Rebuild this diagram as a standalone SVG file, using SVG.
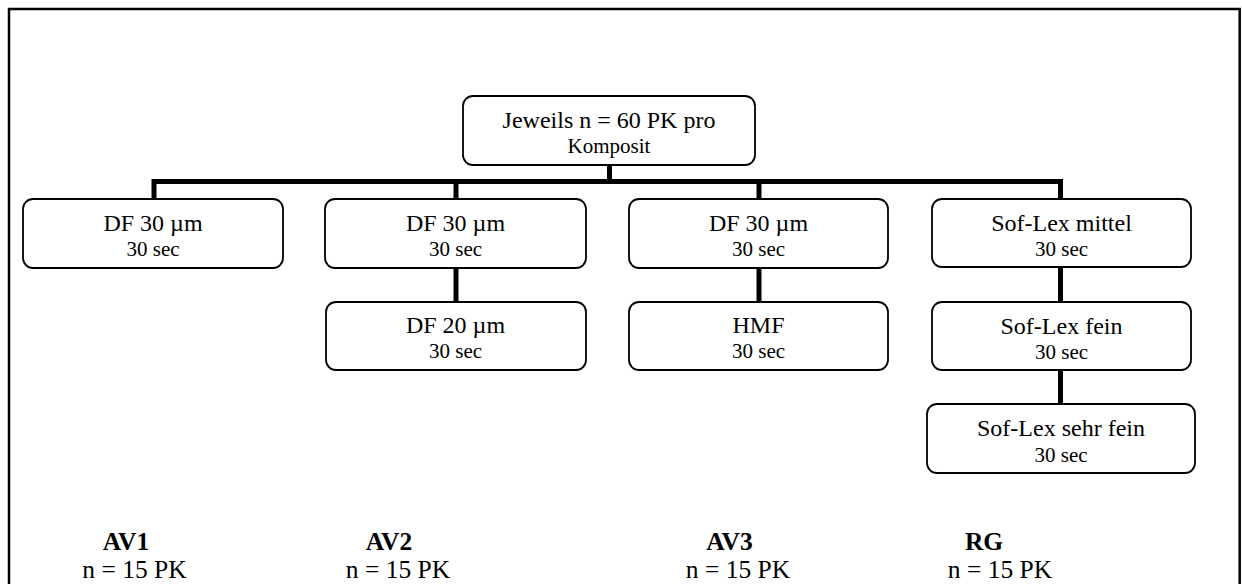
<svg xmlns="http://www.w3.org/2000/svg" width="1242" height="584" viewBox="0 0 1242 584">
<style>
.box{fill:#fff;stroke:#000;stroke-width:1.8}
.t1{font-family:"Liberation Serif","Times New Roman",serif;font-size:24px;text-anchor:middle;fill:#000}
.t2{font-family:"Liberation Serif","Times New Roman",serif;font-size:21px;text-anchor:middle;fill:#000}
.lab{font-family:"Liberation Serif","Times New Roman",serif;font-size:25.5px;font-weight:bold;text-anchor:middle;fill:#000}
.cnt{font-family:"Liberation Serif","Times New Roman",serif;font-size:25.5px;text-anchor:middle;fill:#000}
.conn{fill:none;stroke:#000;stroke-width:5;stroke-linejoin:miter;stroke-linecap:butt}
</style>
<rect width="1242" height="584" fill="#fff"/>
<path d="M9,584 V9 H1239.7 V584" fill="none" stroke="#000" stroke-width="2.5"/>
<g id="connectors">
<path class="conn" d="M609.5,165 V181.5"/>
<path class="conn" d="M154,199 V181.5 H1060.5 V199"/>
<path class="conn" d="M456,181.5 V199"/>
<path class="conn" d="M759,181.5 V199"/>
<path class="conn" d="M456,268 V302"/>
<path class="conn" d="M759,268 V302"/>
<path class="conn" d="M1060.5,267 V302"/>
<path class="conn" d="M1060.5,370 V404"/>
</g>
<g id="root">
<rect class="box" x="463" y="96" width="292" height="69" rx="10"/>
<text class="t1" x="609" y="128">Jeweils n = 60 PK pro</text>
<text class="t2" x="609" y="152.5">Komposit</text>
</g>
<g id="av1-df30">
<rect class="box" x="23" y="199" width="260" height="69" rx="10"/>
<text class="t1" x="153" y="231">DF 30 µm</text>
<text class="t2" x="153" y="256">30 sec</text>
</g>
<g id="av2-df30">
<rect class="box" x="325" y="199" width="261" height="69" rx="10"/>
<text class="t1" x="455.5" y="231">DF 30 µm</text>
<text class="t2" x="455.5" y="256">30 sec</text>
</g>
<g id="av2-df20">
<rect class="box" x="326" y="302" width="260" height="68" rx="10"/>
<text class="t1" x="455.5" y="333">DF 20 µm</text>
<text class="t2" x="455.5" y="358">30 sec</text>
</g>
<g id="av3-df30">
<rect class="box" x="629" y="199" width="259" height="69" rx="10"/>
<text class="t1" x="758.5" y="231">DF 30 µm</text>
<text class="t2" x="758.5" y="256">30 sec</text>
</g>
<g id="av3-hmf">
<rect class="box" x="629" y="302" width="259" height="68" rx="10"/>
<text class="t1" x="758.5" y="333">HMF</text>
<text class="t2" x="758.5" y="358">30 sec</text>
</g>
<g id="rg-mittel">
<rect class="box" x="932" y="199" width="259" height="68" rx="10"/>
<text class="t1" x="1061.5" y="231">Sof-Lex mittel</text>
<text class="t2" x="1061.5" y="256">30 sec</text>
</g>
<g id="rg-fein">
<rect class="box" x="932" y="302" width="259" height="68" rx="10"/>
<text class="t1" x="1061.5" y="334">Sof-Lex fein</text>
<text class="t2" x="1061.5" y="359">30 sec</text>
</g>
<g id="rg-sehrfein">
<rect class="box" x="927" y="404" width="268" height="69" rx="10"/>
<text class="t1" x="1061" y="436">Sof-Lex sehr fein</text>
<text class="t2" x="1061" y="461.5">30 sec</text>
</g>
<g id="labels">
<text class="lab" x="126" y="550">AV1</text>
<text class="cnt" x="134.5" y="578.3">n = 15 PK</text>
<text class="lab" x="389" y="550">AV2</text>
<text class="cnt" x="398" y="578.3">n = 15 PK</text>
<text class="lab" x="729.5" y="550">AV3</text>
<text class="cnt" x="738" y="578.3">n = 15 PK</text>
<text class="lab" x="984" y="550">RG</text>
<text class="cnt" x="1000" y="578.3">n = 15 PK</text>
</g>
</svg>
